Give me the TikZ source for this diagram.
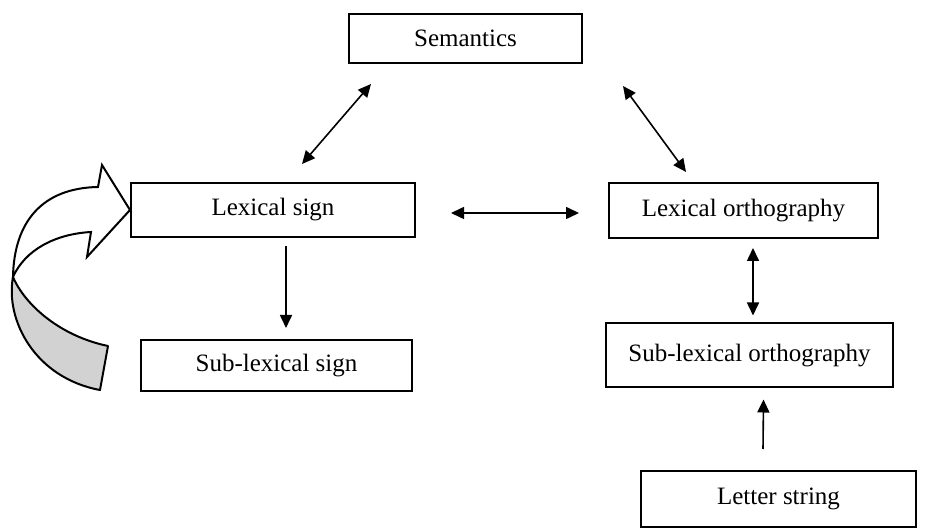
\documentclass[tikz,border=0pt]{standalone}
\usepackage{fontspec}
\setmainfont{Liberation Serif}
\usetikzlibrary{positioning,arrows.meta,calc}
\definecolor{ribbongray}{RGB}{210,210,210}

\begin{document}
\begin{tikzpicture}[x=0.5pt,y=-0.5pt,
      boxnode/.style={draw,line width=1pt,inner sep=0pt,
                      font=\fontsize{12.5}{15}\selectfont},
      link/.style={line width=0.8pt,-{Triangle[length=6.5pt,width=6pt]}},
      dbl/.style={link,{Triangle[length=6.5pt,width=6pt]}-{Triangle[length=6.5pt,width=6pt]}}]

    \useasboundingbox (0,0) rectangle (925,528);

    \node[boxnode,minimum width=116.5pt,minimum height=24.5pt] (sem) at (465.5,38.5) {Semantics};
    \node[boxnode,minimum width=142pt,minimum height=27pt] (lexsign) at (273,210) {Lexical sign};
    \node[boxnode,minimum width=134.5pt,minimum height=27.5pt] (lexorth) at (743.5,210.5) {Lexical orthography};
    \node[boxnode,minimum width=135.5pt,minimum height=25.5pt] (sublexsign) at (276.5,365.5) {Sub-lexical sign};
    \node[boxnode,minimum width=143.5pt,minimum height=32pt] (sublexorth) at (749.5,355.5) {Sub-lexical orthography};
    \node[boxnode,minimum width=137.5pt,minimum height=28pt] (letters) at (778.5,499) {Letter string};

    % connectors
    \draw[dbl] ($(lexsign.north)+(29,-18)$) -- ($(sem.south)+(-94.5,20)$);
    \draw[dbl] ($(sem.south)+(157.5,22)$) -- ($(lexorth.north)+(-57.5,-10)$);
    \draw[dbl] ($(lexsign.east)+(35,3)$) -- ($(lexorth.west)+(-29,2.5)$);
    \draw[link] ($(lexsign.south)+(13,8)$) -- ($(sublexsign.north)+(9.5,-11)$);
    \draw[dbl] ($(lexorth.south)+(9.5,9)$) -- ($(sublexorth.north)+(3.5,-7)$);
    \draw[link] ($(letters.north)+(-15.5,-21)$) -- ($(sublexorth.south)+(14,11)$);

    % twisted block arrow into lexical sign
    \draw[line width=1pt,fill=ribbongray,line join=round]
      (13,277) .. controls (5,320) and (35,378) .. (100,390)
      -- (108,346) .. controls (60,336) and (25,305) .. cycle;
    \draw[line width=1pt,fill=white,line join=miter]
      (13,277) .. controls (14,222) and (42,188) .. (98,187)
      -- (102,165) -- (lexsign.west) -- (87,257) -- (91,232)
      .. controls (55,234) and (25,250) .. cycle;
  \end{tikzpicture}
\end{document}
